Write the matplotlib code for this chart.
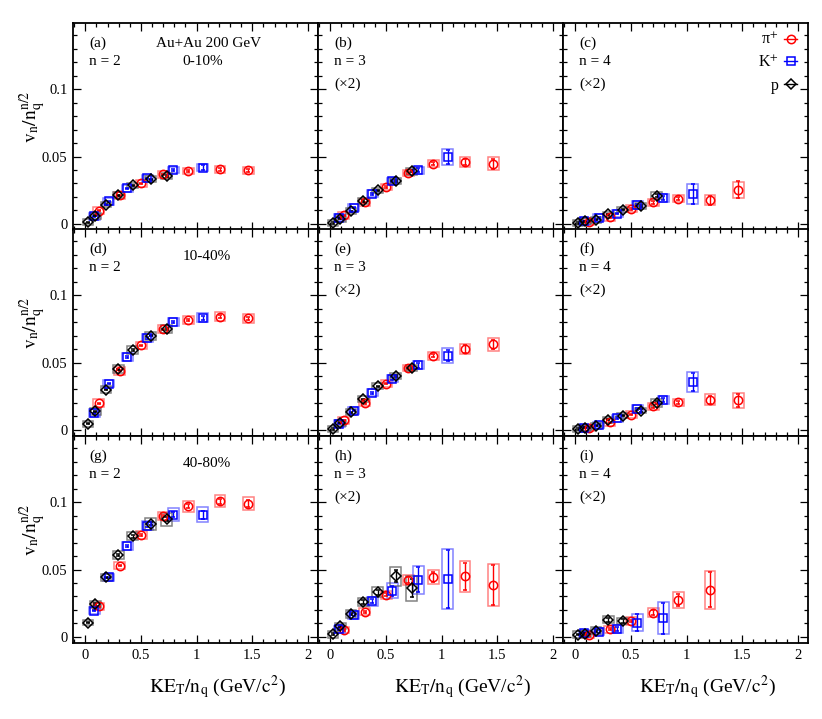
import matplotlib
matplotlib.use("Agg")
import matplotlib.pyplot as plt
from matplotlib.ticker import MultipleLocator, FuncFormatter
from matplotlib.lines import Line2D

plt.rcParams['font.family'] = ['Liberation Serif', 'DejaVu Serif']
plt.rcParams['mathtext.fontset'] = 'stix'

# ---------------- data (displayed values; n=3,4 panels already x2) ----------------
pi_x = [0.12, 0.31, 0.505, 0.70, 0.925, 1.21, 1.465]
k_x = [0.08, 0.21, 0.377, 0.557, 0.79, 1.055]
p_x = [0.026, 0.09, 0.185, 0.296, 0.425, 0.587, 0.73]

# (a) 0-10%, n=2
a_pi = [0.0099, 0.0213, 0.0300, 0.0367, 0.0392, 0.0404, 0.0397]
a_pi_stat = [0.0004, 0.0004, 0.0004, 0.0005, 0.0006, 0.0008, 0.0010]
a_pi_sys = [0.0025, 0.0025, 0.0025, 0.0025, 0.0025, 0.0025, 0.0025]
a_k = [0.0057, 0.0169, 0.0263, 0.0337, 0.0400, 0.0417]
a_k_stat = [0.0004, 0.0004, 0.0004, 0.0005, 0.0008, 0.0018]
a_k_sys = [0.0025, 0.0025, 0.0025, 0.0025, 0.0025, 0.0025]
a_p = [0.0012, 0.0062, 0.0144, 0.0213, 0.0285, 0.0330, 0.0355]
a_p_stat = [0.0004, 0.0004, 0.0004, 0.0004, 0.0005, 0.0005, 0.0007]
a_p_sys = [0.0022, 0.0022, 0.0022, 0.0022, 0.0022, 0.0022, 0.0022]

# (b) 0-10%, n=3
b_pi = [0.0065, 0.0161, 0.0273, 0.0377, 0.0447, 0.0460, 0.0447]
b_pi_stat = [0.0004, 0.0004, 0.0005, 0.0007, 0.0010, 0.0020, 0.0037]
b_pi_sys = [0.0025, 0.0025, 0.0025, 0.0025, 0.0028, 0.0037, 0.0050]
b_k = [0.0045, 0.0120, 0.0223, 0.0318, 0.0397, 0.0496]
b_k_stat = [0.0004, 0.0005, 0.0006, 0.0008, 0.0015, 0.0050]
b_k_sys = [0.0025, 0.0025, 0.0025, 0.0025, 0.0028, 0.0060]
b_p = [0.0007, 0.0040, 0.0094, 0.0170, 0.0248, 0.0318, 0.0390]
b_p_stat = [0.0004, 0.0004, 0.0004, 0.0005, 0.0005, 0.0006, 0.0008]
b_p_sys = [0.0022, 0.0022, 0.0022, 0.0022, 0.0022, 0.0022, 0.0028]

# (c) 0-10%, n=4
c_pi = [0.0015, 0.0050, 0.0112, 0.0159, 0.0186, 0.0174, 0.0253]
c_pi_stat = [0.0004, 0.0005, 0.0006, 0.0008, 0.0012, 0.0035, 0.0062]
c_pi_sys = [0.0025, 0.0025, 0.0025, 0.0025, 0.0025, 0.0037, 0.0057]
c_k = [0.0020, 0.0045, 0.0077, 0.0139, 0.0194, 0.0223]
c_k_stat = [0.0004, 0.0005, 0.0006, 0.0008, 0.0015, 0.0074]
c_k_sys = [0.0025, 0.0025, 0.0025, 0.0028, 0.0030, 0.0074]
c_p = [0.0007, 0.0020, 0.0032, 0.0070, 0.0107, 0.0134, 0.0210]
c_p_stat = [0.0004, 0.0004, 0.0004, 0.0005, 0.0006, 0.0008, 0.0010]
c_p_sys = [0.0022, 0.0022, 0.0022, 0.0022, 0.0022, 0.0022, 0.0028]

# (d) 10-40%, n=2
d_pi = [0.0199, 0.0438, 0.0627, 0.0746, 0.0816, 0.0841, 0.0828]
d_pi_stat = [0.0004, 0.0004, 0.0004, 0.0005, 0.0006, 0.0008, 0.0010]
d_pi_sys = [0.0028, 0.0028, 0.0028, 0.0030, 0.0030, 0.0032, 0.0032]
d_k = [0.0124, 0.0343, 0.0542, 0.0684, 0.0799, 0.0833]
d_k_stat = [0.0004, 0.0004, 0.0005, 0.0006, 0.0008, 0.0015]
d_k_sys = [0.0028, 0.0028, 0.0028, 0.0030, 0.0032, 0.0032]
d_p = [0.0045, 0.0139, 0.0299, 0.0450, 0.0592, 0.0699, 0.0746]
d_p_stat = [0.0004, 0.0004, 0.0004, 0.0005, 0.0005, 0.0006, 0.0007]
d_p_sys = [0.0022, 0.0025, 0.0025, 0.0028, 0.0028, 0.0030, 0.0030]

# (e) 10-40%, n=3
e_pi = [0.0070, 0.0201, 0.0343, 0.0460, 0.0550, 0.0600, 0.0634]
e_pi_stat = [0.0004, 0.0005, 0.0006, 0.0008, 0.0010, 0.0030, 0.0035]
e_pi_sys = [0.0025, 0.0025, 0.0025, 0.0025, 0.0030, 0.0037, 0.0050]
e_k = [0.0045, 0.0144, 0.0276, 0.0380, 0.0480, 0.0550]
e_k_stat = [0.0004, 0.0005, 0.0006, 0.0010, 0.0018, 0.0042]
e_k_sys = [0.0025, 0.0025, 0.0025, 0.0025, 0.0030, 0.0055]
e_p = [0.0007, 0.0052, 0.0132, 0.0226, 0.0323, 0.0398, 0.0460]
e_p_stat = [0.0004, 0.0004, 0.0004, 0.0005, 0.0005, 0.0006, 0.0008]
e_p_sys = [0.0022, 0.0022, 0.0022, 0.0022, 0.0022, 0.0022, 0.0025]

# (f) 10-40%, n=4
f_pi = [0.0015, 0.0057, 0.0114, 0.0174, 0.0206, 0.0224, 0.0219]
f_pi_stat = [0.0004, 0.0005, 0.0006, 0.0008, 0.0012, 0.0030, 0.0050]
f_pi_sys = [0.0025, 0.0025, 0.0025, 0.0025, 0.0025, 0.0042, 0.0055]
f_k = [0.0015, 0.0037, 0.0087, 0.0157, 0.0219, 0.0356]
f_k_stat = [0.0004, 0.0005, 0.0006, 0.0008, 0.0015, 0.0068]
f_k_sys = [0.0025, 0.0025, 0.0025, 0.0030, 0.0030, 0.0075]
f_p = [0.0007, 0.0015, 0.0032, 0.0075, 0.0107, 0.0144, 0.0201]
f_p_stat = [0.0004, 0.0004, 0.0004, 0.0005, 0.0006, 0.0008, 0.0010]
f_p_sys = [0.0022, 0.0022, 0.0022, 0.0022, 0.0022, 0.0022, 0.0028]

# (g) 40-80%, n=2
g_pi = [0.0226, 0.0529, 0.0757, 0.0896, 0.0970, 0.1005, 0.0988]
g_pi_stat = [0.0005, 0.0006, 0.0008, 0.0010, 0.0015, 0.0020, 0.0025]
g_pi_sys = [0.0025, 0.0025, 0.0030, 0.0030, 0.0040, 0.0045, 0.0050]
g_k = [0.0194, 0.0442, 0.0672, 0.0826, 0.0906, 0.0906]
g_k_stat = [0.0005, 0.0006, 0.0008, 0.0010, 0.0020, 0.0030]
g_k_sys = [0.0025, 0.0025, 0.0030, 0.0035, 0.0050, 0.0055]
g_p = [0.0107, 0.0243, 0.0442, 0.0608, 0.0747, 0.0839, 0.0871]
g_p_stat = [0.0005, 0.0005, 0.0006, 0.0008, 0.0010, 0.0012, 0.0015]
g_p_sys = [0.0022, 0.0025, 0.0025, 0.0030, 0.0030, 0.0045, 0.0045]

# (h) 40-80%, n=3
h_pi = [0.0052, 0.0186, 0.0313, 0.0422, 0.0444, 0.0449, 0.0385]
h_pi_stat = [0.0006, 0.0008, 0.0010, 0.0025, 0.0037, 0.0100, 0.0145]
h_pi_sys = [0.0025, 0.0025, 0.0030, 0.0037, 0.0050, 0.0115, 0.0157]
h_k = [0.0057, 0.0164, 0.0263, 0.0342, 0.0424, 0.0429]
h_k_stat = [0.0008, 0.0010, 0.0015, 0.0037, 0.0093, 0.0215]
h_k_sys = [0.0025, 0.0030, 0.0030, 0.0055, 0.0105, 0.0223]
h_p = [0.0020, 0.0082, 0.0169, 0.0260, 0.0330, 0.0449, 0.0362]
h_p_stat = [0.0006, 0.0010, 0.0010, 0.0015, 0.0020, 0.0045, 0.0068]
h_p_sys = [0.0025, 0.0025, 0.0030, 0.0030, 0.0037, 0.0068, 0.0093]

# (i) 40-80%, n=4
i_pi = [0.0015, 0.0057, 0.0119, 0.0181, 0.0275, 0.0350]
i_pi_stat = [0.0006, 0.0008, 0.0010, 0.0020, 0.0045, 0.0130]
i_pi_sys = [0.0025, 0.0025, 0.0030, 0.0035, 0.0057, 0.0142]
i_k = [0.0027, 0.0040, 0.0057, 0.0107, 0.0139]
i_k_stat = [0.0008, 0.0010, 0.0015, 0.0062, 0.0115]
i_k_sys = [0.0025, 0.0025, 0.0030, 0.0062, 0.0120]
i_p = [0.0017, 0.0022, 0.0045, 0.0127, 0.0119]
i_p_stat = [0.0006, 0.0008, 0.0010, 0.0015, 0.0015]
i_p_sys = [0.0025, 0.0025, 0.0025, 0.0025, 0.0025]

panel_letters = ['(a)', '(b)', '(c)', '(d)', '(e)', '(f)', '(g)', '(h)', '(i)']
harmonics = ['n = 2', 'n = 3', 'n = 4']
centralities = ['0-10%', '10-40%', '40-80%']
scale_labels = ['', '(×2)', '(×2)']
species_labels = [r'π$^{+}$', r'K$^{+}$', 'p']

panels = [
    (a_pi, a_pi_stat, a_pi_sys, a_k, a_k_stat, a_k_sys, a_p, a_p_stat, a_p_sys),
    (b_pi, b_pi_stat, b_pi_sys, b_k, b_k_stat, b_k_sys, b_p, b_p_stat, b_p_sys),
    (c_pi, c_pi_stat, c_pi_sys, c_k, c_k_stat, c_k_sys, c_p, c_p_stat, c_p_sys),
    (d_pi, d_pi_stat, d_pi_sys, d_k, d_k_stat, d_k_sys, d_p, d_p_stat, d_p_sys),
    (e_pi, e_pi_stat, e_pi_sys, e_k, e_k_stat, e_k_sys, e_p, e_p_stat, e_p_sys),
    (f_pi, f_pi_stat, f_pi_sys, f_k, f_k_stat, f_k_sys, f_p, f_p_stat, f_p_sys),
    (g_pi, g_pi_stat, g_pi_sys, g_k, g_k_stat, g_k_sys, g_p, g_p_stat, g_p_sys),
    (h_pi, h_pi_stat, h_pi_sys, h_k, h_k_stat, h_k_sys, h_p, h_p_stat, h_p_sys),
    (i_pi, i_pi_stat, i_pi_sys, i_k, i_k_stat, i_k_sys, i_p, i_p_stat, i_p_sys),
]

# ---------------- styling ----------------
RED = '#ff0000'
BLUE = '#0000ff'
BLACK = '#000000'
BOX_RED = (1.0, 0.35, 0.35, 0.75)
BOX_BLUE = (0.35, 0.35, 1.0, 0.75)
BOX_BLACK = (0.35, 0.35, 0.35, 0.75)
styles = [
    (pi_x, RED, BOX_RED, 'o', 6.0),
    (k_x, BLUE, BOX_BLUE, 's', 5.5),
    (p_x, BLACK, BOX_BLACK, 'D', 4.8),
]
BOX_HALF_W = 0.048

W, H = 822, 719
fig = plt.figure(figsize=(W / 100, H / 100), dpi=100)

col_left = [73, 318, 563]
row_top = [23, 229, 436]
ax_w = 245
ax_h = 207

fmt = FuncFormatter(lambda v, pos: ('%g' % round(v, 4)))

for r in range(3):
    for c in range(3):
        idx = r * 3 + c
        x0 = col_left[c] / W
        y0 = 1 - (row_top[r] + ax_h) / H
        ax = fig.add_axes([x0, y0, ax_w / W, ax_h / H])
        ax.set_xlim(-0.11, 2.09)
        ax.set_ylim(-0.0045, 0.149)
        data = panels[idx]
        for s, (xs, col, bcol, mk, ms) in enumerate(styles):
            ys = data[3 * s]
            st = data[3 * s + 1]
            sy = data[3 * s + 2]
            xx = xs[:len(ys)]
            ax.bar(xx, [2 * v for v in sy], bottom=[y - v for y, v in zip(ys, sy)],
                   width=2 * BOX_HALF_W, facecolor='none', edgecolor=bcol,
                   linewidth=1.1, zorder=2)
            ax.errorbar(xx, ys, yerr=st, fmt=mk, mfc='none', mec=col, ecolor=col,
                        ms=ms, mew=1.1, elinewidth=1.0, capsize=1.6, capthick=1.0,
                        zorder=3)
        ax.xaxis.set_major_locator(MultipleLocator(0.5))
        ax.xaxis.set_minor_locator(MultipleLocator(0.1))
        ax.yaxis.set_major_locator(MultipleLocator(0.05))
        ax.yaxis.set_minor_locator(MultipleLocator(0.01))
        ax.tick_params(which='both', direction='in', top=True, right=True,
                       width=0.9, labelsize=10.5, pad=4)
        ax.tick_params(which='major', length=6)
        ax.tick_params(which='minor', length=3)
        ax.xaxis.set_major_formatter(fmt)
        ax.yaxis.set_major_formatter(fmt)
        if c != 0:
            ax.tick_params(labelleft=False)
        if r != 2:
            ax.tick_params(labelbottom=False)
        for sp in ax.spines.values():
            sp.set_linewidth(1.3)

        # panel texts
        ax.text(0.065, 0.903, panel_letters[idx], transform=ax.transAxes,
                fontsize=11, ha='left', va='center')
        ax.text(0.065, 0.812, harmonics[c], transform=ax.transAxes,
                fontsize=11, ha='left', va='center')
        if scale_labels[c]:
            ax.text(0.065, 0.703, scale_labels[c], transform=ax.transAxes,
                    fontsize=11, ha='left', va='center')
        if c == 0:
            if r == 0:
                ax.text(0.555, 0.903, 'Au+Au 200 GeV', transform=ax.transAxes,
                        fontsize=11, ha='center', va='center')
                ax.text(0.53, 0.812, centralities[r], transform=ax.transAxes,
                        fontsize=11, ha='center', va='center')
            else:
                ax.text(0.547, 0.869, centralities[r], transform=ax.transAxes,
                        fontsize=11, ha='center', va='center')
        if idx == 2:
            handles = [Line2D([0], [0], color=col, marker=mk, mfc='none', mec=col,
                              ms=ms, mew=1.1, lw=1.0)
                       for (xs, col, bcol, mk, ms) in styles]
            ax.legend(handles, species_labels, loc='upper right',
                      bbox_to_anchor=(0.955, 0.955), borderaxespad=0, borderpad=0,
                      markerfirst=False, frameon=False, fontsize=11.5,
                      handlelength=0.8, handletextpad=0.35, labelspacing=0.42)

# axis labels
for c in range(3):
    cx = (col_left[c] + ax_w / 2 + 22) / W
    fig.text(cx, 1 - 687 / H, r'$\mathrm{KE_{T}/n_{q}}$ (GeV/$\mathrm{c^{2}}$)',
             fontsize=14, ha='center', va='center')
for r in range(3):
    cy = 1 - (row_top[r] + 94) / H
    fig.text(33 / W, cy, r'$\mathrm{v_{n}/n_{q}^{n/2}}$', fontsize=14,
             rotation=90, ha='center', va='center')

fig.savefig('out.png', dpi=100)
